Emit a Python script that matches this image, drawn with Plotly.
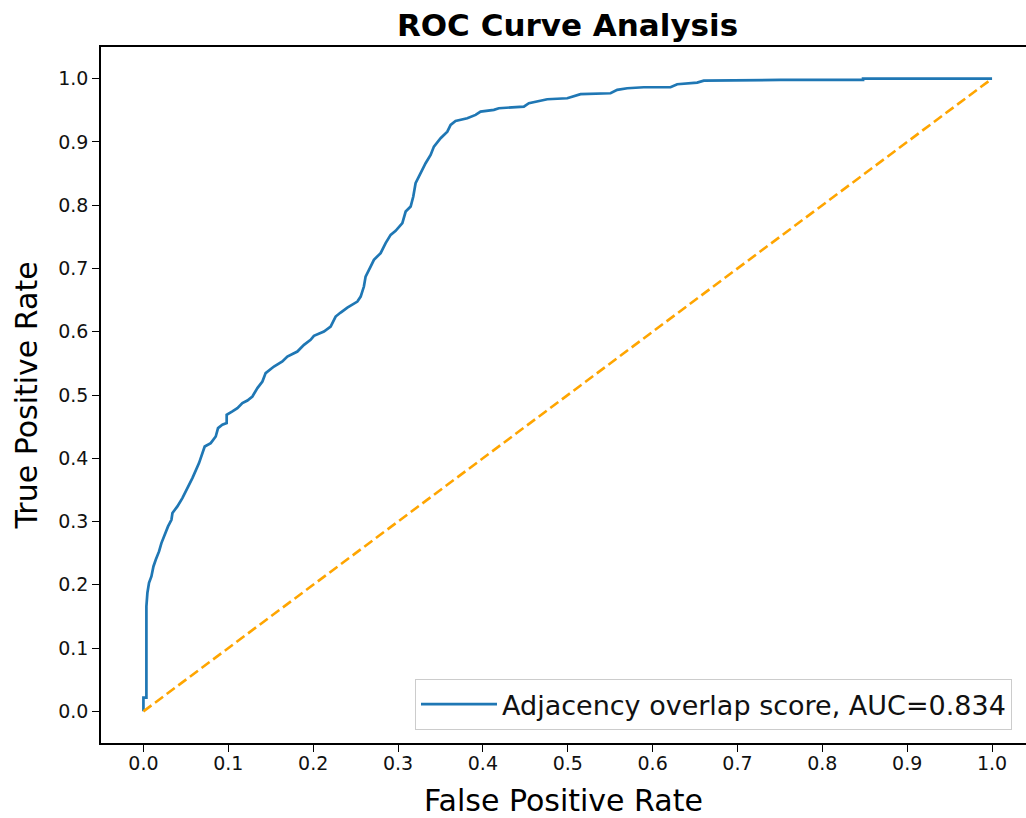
import plotly.graph_objects as go

# ROC curve points
fpr = [0.0, 0.0, 0.0035, 0.0035, 0.0047, 0.0066, 0.0094, 0.0118, 0.0145, 0.0184,
       0.0212, 0.0243, 0.029, 0.033, 0.0342, 0.04, 0.0459, 0.0518, 0.0577, 0.0655,
       0.0695, 0.0722, 0.0793, 0.0852, 0.0879, 0.093, 0.0981, 0.0981, 0.1048, 0.1107,
       0.1166, 0.1225, 0.1284, 0.1343, 0.1402, 0.144, 0.1538, 0.1637, 0.1696, 0.1814,
       0.1892, 0.197, 0.2009, 0.2127, 0.2206, 0.2265, 0.2324, 0.2403, 0.2521, 0.256,
       0.2598, 0.2618, 0.2677, 0.2716, 0.2795, 0.2854, 0.2913, 0.2972, 0.3051, 0.309,
       0.3149, 0.318, 0.3207, 0.3266, 0.3325, 0.3384, 0.3423, 0.3502, 0.3581, 0.362,
       0.3678, 0.3816, 0.3914, 0.3973, 0.413, 0.4188, 0.4365, 0.4483, 0.4542, 0.468,
       0.4759, 0.4994, 0.5072, 0.5151, 0.5504, 0.5583, 0.5701, 0.5896, 0.6211, 0.629,
       0.6525, 0.6603, 0.7506, 0.848, 0.848, 1.0]
tpr = [0.0, 0.0216, 0.0216, 0.166, 0.1875, 0.2033, 0.2133, 0.229, 0.2397, 0.2528,
       0.266, 0.2765, 0.2923, 0.3028, 0.3134, 0.3239, 0.3371, 0.3529, 0.3687, 0.3924,
       0.4082, 0.4186, 0.424, 0.4344, 0.4477, 0.4529, 0.4556, 0.4687, 0.474, 0.4793,
       0.4872, 0.4913, 0.4976, 0.5109, 0.5213, 0.5346, 0.545, 0.5529, 0.5608, 0.5687,
       0.5793, 0.5872, 0.5935, 0.6003, 0.6082, 0.624, 0.6303, 0.6382, 0.6477, 0.6556,
       0.6714, 0.6872, 0.703, 0.7136, 0.7242, 0.74, 0.7531, 0.7594, 0.7716, 0.7899,
       0.7978, 0.8136, 0.8348, 0.8506, 0.8663, 0.8795, 0.8926, 0.9058, 0.9163, 0.9269,
       0.9332, 0.9374, 0.9427, 0.9479, 0.9506, 0.9532, 0.9542, 0.9558, 0.9611, 0.9648,
       0.9674, 0.969, 0.9727, 0.9754, 0.9769, 0.9822, 0.9848, 0.9864, 0.9864, 0.9911,
       0.9937, 0.9968, 0.9979, 0.9979, 1.0, 1.0]

chance_x = [0.0, 1.0]
chance_y = [0.0, 1.0]

series_name = "Adjacency overlap score, AUC=0.834"
tick_vals = [0.0, 0.1, 0.2, 0.3, 0.4, 0.5, 0.6, 0.7, 0.8, 0.9, 1.0]
tick_text = ["0.0", "0.1", "0.2", "0.3", "0.4", "0.5", "0.6", "0.7", "0.8", "0.9", "1.0"]

FONT = "DejaVu Sans"

fig = go.Figure()
fig.add_trace(go.Scatter(x=fpr, y=tpr, mode="lines", name=series_name,
                         line=dict(color="#1f77b4", width=2.7)))
fig.add_trace(go.Scatter(x=chance_x, y=chance_y, mode="lines", showlegend=False,
                         line=dict(color="orange", width=2.6, dash="10px,4.5px")))

axis_common = dict(
    showgrid=False, zeroline=False, showline=True, linecolor="black", linewidth=1.6,
    ticks="outside", ticklen=7, tickwidth=1.4, tickcolor="black", automargin=False,
    tickfont=dict(family=FONT, size=19, color="#111"),
    tickvals=tick_vals, ticktext=tick_text,
)

fig.update_layout(
    width=1026, height=818,
    margin=dict(l=101, r=0, t=47, b=75),
    paper_bgcolor="white", plot_bgcolor="white",
    title=dict(text="ROC Curve Analysis", x=567.5 / 1026, xref="container", xanchor="center",
               y=1 - 25 / 818, yref="container", yanchor="middle",
               font=dict(family=FONT, size=31, color="black", weight="bold")),
    xaxis=dict(range=[-0.05, 1.04], mirror=True, ticklabelstandoff=-5,
               title=dict(text="False Positive Rate", standoff=23,
                          font=dict(family=FONT, size=30, color="black")),
               **axis_common),
    yaxis=dict(range=[-0.05, 1.05], mirror=False,
               title=dict(text="True Positive Rate", standoff=12,
                          font=dict(family=FONT, size=30, color="black")),
               **axis_common),
    legend=dict(x=(1012 - 101) / 925, xanchor="right", y=(743 - 730) / 696, yanchor="bottom",
                bgcolor="rgba(255,255,255,0.8)", bordercolor="#cccccc", borderwidth=1,
                itemwidth=76,
                font=dict(family=FONT, size=27, color="#111")),
    showlegend=True,
)

fig.write_html("out.html", config={"displayModeBar": False},
               post_script="document.body.style.margin='0px';document.body.style.overflow='hidden';")
